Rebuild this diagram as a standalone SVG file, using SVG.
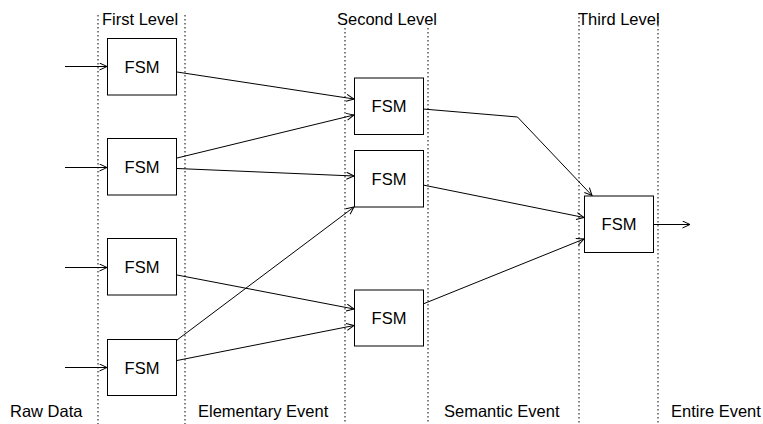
<svg xmlns="http://www.w3.org/2000/svg" width="763" height="424" viewBox="0 0 763 424">
<style>
.bg{fill:#fff}
.div{stroke:#000;stroke-width:1;stroke-dasharray:1.5 2.5;fill:none}
.box{fill:#fff;stroke:#000;stroke-width:1}
.t{font-family:"Liberation Sans",Arial,Helvetica,sans-serif;font-size:16.5px;fill:#000}
.c{text-anchor:middle}
.e{stroke:#000;stroke-width:1;fill:none;marker-end:url(#a)}
</style>
<defs>
<marker id="a" markerUnits="userSpaceOnUse" markerWidth="12" markerHeight="10" refX="8" refY="4" orient="auto" viewBox="0 0 12 10">
<path d="M0.5,0.5 L8,4 L0.5,7.5" fill="none" stroke="#000" stroke-width="1"/>
</marker>
</defs>
<rect class="bg" x="0" y="0" width="763" height="424"/>
<g id="dividers">
<line class="div" x1="98" y1="15" x2="98" y2="424"/>
<line class="div" x1="185" y1="15" x2="185" y2="424"/>
<line class="div" x1="345" y1="28" x2="345" y2="424"/>
<line class="div" x1="428" y1="28" x2="428" y2="424"/>
<line class="div" x1="579" y1="13" x2="579" y2="424"/>
<line class="div" x1="658" y1="13" x2="658" y2="424"/>
</g>
<g id="labels">
<text class="t" x="102" y="25">First Level</text>
<text class="t" x="337" y="25">Second Level</text>
<text class="t" x="578" y="25">Third Level</text>
<text class="t" x="10" y="417">Raw Data</text>
<text class="t" x="198" y="417">Elementary Event</text>
<text class="t" x="444" y="417">Semantic Event</text>
<text class="t" x="671" y="417">Entire Event</text>
</g>
<g id="connectors">
<line class="e" x1="65" y1="66.5" x2="107" y2="66.5"/>
<line class="e" x1="65" y1="167.5" x2="107" y2="167.5"/>
<line class="e" x1="65" y1="267.5" x2="107" y2="267.5"/>
<line class="e" x1="65" y1="367.5" x2="107" y2="367.5"/>
<line class="e" x1="177" y1="72" x2="354" y2="99"/>
<line class="e" x1="177" y1="158" x2="354" y2="115"/>
<line class="e" x1="177" y1="168.5" x2="354" y2="176"/>
<line class="e" x1="177" y1="275" x2="354" y2="309"/>
<line class="e" x1="177" y1="340" x2="354" y2="207"/>
<line class="e" x1="177" y1="360.5" x2="354" y2="325.5"/>
<polyline class="e" points="423,109 517.5,117 592,195.5"/>
<line class="e" x1="423" y1="185" x2="584" y2="217.5"/>
<line class="e" x1="423" y1="304" x2="584" y2="239"/>
<line class="e" x1="654" y1="224.5" x2="690" y2="224.5"/>
</g>
<g id="fsm1a"><rect class="box" x="107.5" y="38.5" width="69" height="56.5"/><text class="t c" x="142" y="72.5">FSM</text></g>
<g id="fsm1b"><rect class="box" x="107.5" y="138.5" width="69" height="56.5"/><text class="t c" x="142" y="172.5">FSM</text></g>
<g id="fsm1c"><rect class="box" x="107.5" y="238.5" width="69" height="56.5"/><text class="t c" x="142" y="272.5">FSM</text></g>
<g id="fsm1d"><rect class="box" x="107.5" y="339.5" width="69" height="56"/><text class="t c" x="142" y="373.5">FSM</text></g>
<g id="fsm2a"><rect class="box" x="354.5" y="78" width="69" height="56.5"/><text class="t c" x="389" y="112">FSM</text></g>
<g id="fsm2b"><rect class="box" x="354.5" y="150.5" width="69" height="56.5"/><text class="t c" x="389" y="184.5">FSM</text></g>
<g id="fsm2c"><rect class="box" x="354.5" y="290" width="69" height="56"/><text class="t c" x="389" y="324">FSM</text></g>
<g id="fsm3"><rect class="box" x="584.5" y="196" width="69" height="56.5"/><text class="t c" x="619" y="230">FSM</text></g>
</svg>
